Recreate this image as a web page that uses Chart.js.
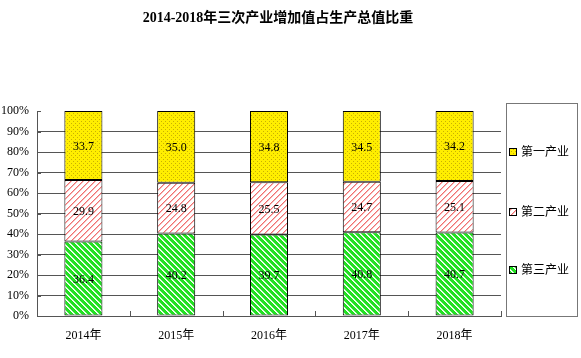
<!DOCTYPE html>
<html>
<head>
<meta charset="utf-8">
<script src="https://cdn.jsdelivr.net/npm/chart.js@4.4.1/dist/chart.umd.min.js"></script>
<style>
  body { margin: 0; background: #fff; }
  #wrap { width: 581px; height: 358px; }
</style>
</head>
<body>
<div id="wrap"><canvas id="myChart" width="581" height="358"></canvas></div>
<script>
// dane z wykresu
const years = ['2014年', '2015年', '2016年', '2017年', '2018年'];
const tertiary = [36.4, 40.2, 39.7, 40.8, 40.7];   // 第三产业 (dół)
const secondary = [29.9, 24.8, 25.5, 24.7, 25.1];  // 第二产业
const primary = [33.7, 35.0, 34.8, 34.5, 34.2];    // 第一产业 (góra)
const yTicks = [0, 10, 20, 30, 40, 50, 60, 70, 80, 90, 100];
const titleText = '2014-2018年三次产业增加值占生产总值比重';

const FONT = "'Liberation Serif', 'Noto Sans CJK SC', serif";

// wzorki do słupków (piksel po pikselu)
function makePattern(size, draw) {
  const c = document.createElement('canvas');
  c.width = size; c.height = size;
  const g = c.getContext('2d');
  draw(g, size);
  return g.createPattern(c, 'repeat');
}

const ctx = document.getElementById('myChart').getContext('2d');

const yellowPat = makePattern(4, (g, s) => {
  g.fillStyle = '#ffee00';
  g.fillRect(0, 0, s, s);
  g.fillStyle = '#c9b200';
  g.fillRect(1, 1, 1, 1);
  g.fillRect(3, 3, 1, 1);
});

const redPat = makePattern(6, (g, s) => {
  g.fillStyle = '#ffffff';
  g.fillRect(0, 0, s, s);
  g.fillStyle = '#f07070';
  for (let i = 0; i < s; i++) g.fillRect(i, s - 1 - i, 1, 1);
  g.fillStyle = '#f8b8b8';
  for (let i = 0; i < s; i++) g.fillRect((i + 1) % s, s - 1 - i, 1, 1);
});

const greenPat = makePattern(6, (g, s) => {
  g.fillStyle = '#22e022';
  g.fillRect(0, 0, s, s);
  g.fillStyle = '#ffffff';
  for (let i = 0; i < s; i++) g.fillRect(i, i, 1, 1);
  g.fillStyle = '#c8f8c8';
  for (let i = 0; i < s; i++) g.fillRect((i + 1) % s, i, 1, 1);
});

// tytuł, legenda, etykiety, ząbki osi
const extras = {
  id: 'extras',
  afterDatasetsDraw(chart) {
    const c = chart.ctx;
    const ys = chart.scales.y;
    const area = chart.chartArea;
    c.save();

    // etykiety wartości
    c.fillStyle = '#000';
    c.font = "12px " + FONT;
    c.textAlign = 'center';
    c.textBaseline = 'middle';
    chart.data.datasets.forEach((ds, i) => {
      chart.getDatasetMeta(i).data.forEach((bar, j) => {
        const p = bar.getProps(['x', 'y', 'base'], true);
        c.fillText(ds.data[j].toFixed(1), p.x, (p.y + p.base) / 2 + 1);
      });
    });

    // ząbki
    c.strokeStyle = '#555';
    c.lineWidth = 1;
    c.beginPath();
    yTicks.forEach(v => {
      const y = Math.round(ys.getPixelForValue(v)) + 0.5;
      c.moveTo(area.left, y); c.lineTo(area.left + 4, y);
    });
    for (let i = 1; i <= years.length; i++) {
      const x = Math.round(area.left + (area.right - area.left) * i / years.length) + 0.5;
      c.moveTo(x, area.bottom); c.lineTo(x, area.bottom - 5);
    }
    c.stroke();

    // tytuł
    c.fillStyle = '#000';
    c.font = "bold 14px " + FONT;
    c.textAlign = 'center';
    c.fillText(titleText, 278, 18);

    // legenda
    c.strokeStyle = '#777';
    c.strokeRect(506.5, 103.5, 71, 213);
    const legendY = [152, 212, 270];
    const order = [2, 1, 0];
    c.font = "12px " + FONT;
    c.textAlign = 'left';
    order.forEach((di, k) => {
      const ds = chart.data.datasets[di];
      const y = legendY[k];
      c.fillStyle = ds.backgroundColor;
      c.fillRect(509, y - 4, 8, 8);
      c.strokeStyle = '#000';
      c.strokeRect(509.5, y - 3.5, 7, 7);
      c.fillStyle = '#000';
      c.fillText(ds.label, 521, y + 1);
    });

    c.restore();
  }
};

new Chart(ctx, {
  type: 'bar',
  data: {
    labels: years,
    datasets: [
      { label: '第三产业', data: tertiary, backgroundColor: greenPat },
      { label: '第二产业', data: secondary, backgroundColor: redPat },
      { label: '第一产业', data: primary, backgroundColor: yellowPat }
    ].map(d => Object.assign(d, {
      borderColor: '#000', borderWidth: 1, borderSkipped: false,
      barPercentage: 0.41, categoryPercentage: 1
    }))
  },
  options: {
    responsive: false,
    animation: false,
    layout: { padding: { left: 0, right: 80, top: 111, bottom: 0 } },
    plugins: { legend: { display: false }, title: { display: false }, tooltip: { enabled: false } },
    scales: {
      x: {
        stacked: true,
        grid: { display: false },
        border: { display: true, color: '#555' },
        ticks: { color: '#000', font: { family: FONT, size: 12 }, padding: 5 },
        afterFit(s) { s.height = 42; }
      },
      y: {
        stacked: true,
        min: 0, max: 100,
        afterBuildTicks(s) { s.ticks = yTicks.map(v => ({ value: v })); },
        grid: {
          drawTicks: false,
          color: c => (c.tick && (c.tick.value === 0 || c.tick.value === 100)) ? 'rgba(0,0,0,0)' : '#555'
        },
        border: { display: true, color: '#555' },
        ticks: {
          color: '#000', padding: 8,
          font: { family: FONT, size: 12 },
          callback: v => v + '%'
        },
        afterFit(s) { s.width = 37; }
      }
    }
  },
  plugins: [extras]
});
</script>
</body>
</html>
